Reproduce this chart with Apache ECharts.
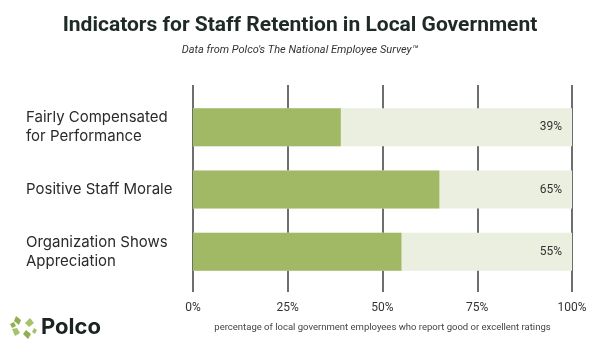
<!DOCTYPE html>
<html>
<head>
<meta charset="utf-8">
<script src="https://cdn.jsdelivr.net/npm/echarts@6/dist/echarts.min.js"></script>
<style>html,body{margin:0;padding:0;background:#fff}#c{width:600px;height:357px}</style>
</head>
<body>
<div id="c"></div>
<script>
var categories = ['Fairly Compensated\nfor Performance', 'Positive Staff Morale', 'Organization Shows\nAppreciation'];
var values = [39, 65, 55];
var tickLabels = ['0%', '25%', '50%', '75%', '100%'];

var chart = echarts.init(document.getElementById('c'));
var L = 193, R = 28;
chart.setOption({
  backgroundColor: '#ffffff',
  animation: false,
  title: {
    text: 'Indicators for Staff Retention in Local Government',
    subtext: "Data from Polco's The National Employee Survey\u2122",
    left: 'center', top: 10, itemGap: 9,
    textStyle: { fontFamily: 'Roboto', fontSize: 21, fontWeight: 'bold', color: '#1f2a27' },
    subtextStyle: { fontFamily: 'Roboto', fontSize: 11, fontStyle: 'italic', color: '#333' }
  },
  grid: [
    { left: L, right: R, top: 85, bottom: 65 },
    { left: L, right: R, top: 96, bottom: 74 }
  ],
  xAxis: [
    {
      gridIndex: 0, type: 'value', min: 0, max: 100, interval: 25,
      axisLine: { show: false }, axisTick: { show: false },
      splitLine: { show: true, lineStyle: { color: '#3a3f3c', width: 1.5 } },
      axisLabel: { margin: 10, color: '#333', fontFamily: 'Roboto', fontSize: 12,
        formatter: function (v) { return tickLabels[Math.round(v / 25)]; } },
      name: 'percentage of local government employees who report good or excellent ratings',
      nameLocation: 'middle', nameGap: 31,
      nameTextStyle: { color: '#444', fontFamily: 'Roboto', fontSize: 9.5 }
    },
    { gridIndex: 1, type: 'value', min: 0, max: 100, show: false }
  ],
  yAxis: [
    { gridIndex: 0, type: 'category', data: categories, show: false },
    {
      gridIndex: 1, type: 'category', data: categories, inverse: true,
      axisLine: { show: false }, axisTick: { show: false },
      axisLabel: { align: 'left', margin: L - 26, color: '#2a2a2a', fontFamily: 'Inter', fontSize: 15, lineHeight: 19 }
    },
    {
      gridIndex: 1, type: 'category', data: categories, inverse: true, position: 'right', z: 10,
      axisLine: { show: false }, axisTick: { show: false },
      axisLabel: { inside: true, margin: 10, color: '#333', fontFamily: 'Roboto', fontSize: 12,
        formatter: function (v, i) { return values[i] + '%'; } }
    }
  ],
  series: [{
    type: 'bar', xAxisIndex: 1, yAxisIndex: 1, data: values, barWidth: 38,
    itemStyle: { color: '#a1b965' },
    showBackground: true, backgroundStyle: { color: '#eaefdf' }
  }],
  graphic: [
    {
      type: 'group', left: 10, top: 316,
      children: [
        { type: 'polygon', shape: { points: [[6,0],[11,4],[9,9],[4,5]] }, style: { fill: '#8fb04f' } },
        { type: 'polygon', shape: { points: [[20,2],[24,7],[19,11],[15,7]] }, style: { fill: '#a6c26b' } },
        { type: 'polygon', shape: { points: [[16,14],[21,18],[18,23],[13,18]] }, style: { fill: '#8fb04f' } },
        { type: 'polygon', shape: { points: [[2,13],[7,12],[10,17],[5,20]] }, style: { fill: '#a6c26b' } },
        { type: 'polygon', shape: { points: [[0,8],[4,6],[6,10],[2,12]] }, style: { fill: '#8fb04f' } },
        { type: 'polygon', shape: { points: [[24,12],[27,14],[25,18],[22,16]] }, style: { fill: '#a6c26b' } },
        { type: 'text', x: 31, y: 0, style: { text: 'Polco', fontFamily: 'Inter', fontWeight: 'bold', fontSize: 22, fill: '#1b2420' } }
      ]
    }
  ]
});
</script>
</body>
</html>
